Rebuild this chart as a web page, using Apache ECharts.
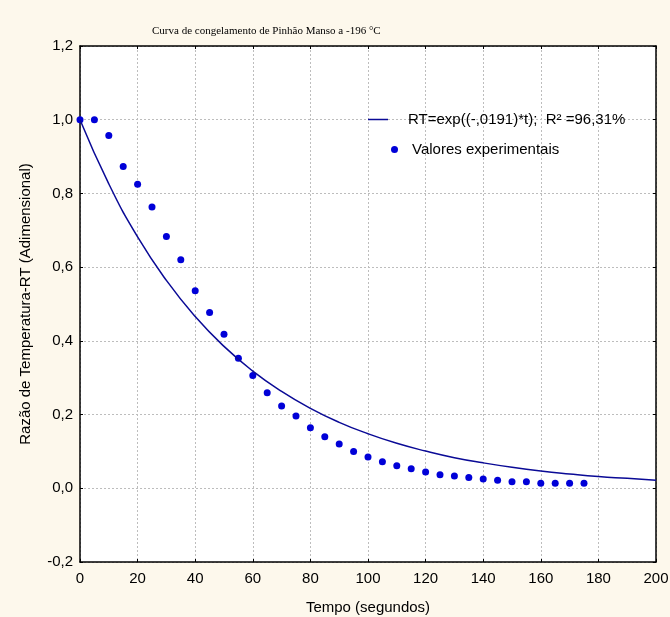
<!DOCTYPE html>
<html>
<head>
<meta charset="utf-8">
<script src="https://cdn.jsdelivr.net/npm/echarts@6/dist/echarts.min.js"></script>
<style>
html,body{margin:0;padding:0;background:#fdf8ec;}
#chart{width:670px;height:617px;}
</style>
</head>
<body>
<div id="chart"></div>
<script>
// Experimental points (time in seconds, temperature ratio)
var expTime = [0, 5, 10, 15, 20, 25, 30, 35, 40, 45, 50, 55, 60, 65, 70, 75, 80, 85, 90, 95, 100, 105, 110, 115, 120, 125, 130, 135, 140, 145, 150, 155, 160, 165, 170, 175];
var expRT = [1.000, 1.000, 0.957, 0.873, 0.825, 0.763, 0.683, 0.620, 0.536, 0.477, 0.418, 0.353, 0.306, 0.259, 0.223, 0.196, 0.164, 0.140, 0.120, 0.100, 0.085, 0.072, 0.061, 0.053, 0.044, 0.037, 0.033, 0.029, 0.025, 0.022, 0.018, 0.018, 0.014, 0.014, 0.014, 0.014];
// Fitted curve
var fitTime = [0, 10, 20, 30, 40, 50, 60, 70, 80, 90, 100, 110, 120, 130, 140, 150, 160, 170, 180, 190, 200];
var fitRT = [1.000, 0.826, 0.682, 0.564, 0.466, 0.385, 0.318, 0.263, 0.217, 0.179, 0.148, 0.122, 0.101, 0.083, 0.069, 0.057, 0.047, 0.039, 0.032, 0.027, 0.022];

var titleText = 'Curva de congelamento de Pinhão Manso a -196 °C';
var fitName = 'RT=exp((-,0191)*t);  R² =96,31%';
var expName = 'Valores experimentais';
var xName = 'Tempo (segundos)';
var yName = 'Razão de Temperatura-RT (Adimensional)';

function zip(a, b) { return a.map(function (v, i) { return [v, b[i]]; }); }
function comma(v) { return v.toFixed(1).replace('.', ','); }

var chart = echarts.init(document.getElementById('chart'));
var font = 'Liberation Sans, Arial, sans-serif';
var gridLine = { show: true, lineStyle: { color: '#bdbdbd', type: [2, 2], width: 1 } };
var lineColor = '#0a0a96';
var dotColor = '#0000d8';

chart.setOption({
  backgroundColor: '#fdf8ec',
  animation: false,
  title: {
    text: titleText,
    left: 147, top: 21,
    textStyle: { fontFamily: 'Liberation Serif, Times New Roman, serif', fontSize: 11, fontWeight: 'normal', color: '#000' }
  },
  grid: { left: 80, right: 14, top: 46, bottom: 55, outerBoundsMode: 'none', containLabel: false, backgroundColor: '#fff', show: true, borderWidth: 0 },
  legend: [
    {
      data: [{ name: fitName, icon: 'rect' }], left: 363, top: 107, itemWidth: 20, itemHeight: 1.5,
      itemStyle: { color: lineColor },
      textStyle: { fontFamily: font, fontSize: 15, color: '#000', padding: [0, 0, 0, 15] }
    },
    {
      data: [{ name: expName, icon: 'circle' }], left: 386, top: 137, itemWidth: 7, itemHeight: 7,
      itemStyle: { color: dotColor, opacity: 1 },
      textStyle: { fontFamily: font, fontSize: 15, color: '#000', padding: [0, 0, 0, 9] }
    }
  ],
  xAxis: [
    {
      type: 'value', min: 0, max: 200, interval: 20,
      name: xName, nameLocation: 'middle', nameGap: 38,
      nameTextStyle: { fontFamily: font, fontSize: 15, color: '#000' },
      axisLine: { onZero: false, lineStyle: { color: '#000', width: 1.5 } },
      axisTick: { inside: true, length: 3, lineStyle: { color: '#000' } },
      axisLabel: { fontFamily: font, fontSize: 15, color: '#000', margin: 9 },
      splitLine: gridLine
    },
    {
      type: 'value', min: 0, max: 200, interval: 20, position: 'top',
      axisLine: { show: true, onZero: false, lineStyle: { color: '#000', width: 1.5 } },
      axisTick: { show: true, inside: true, length: 3, lineStyle: { color: '#000' } },
      axisLabel: { show: false }, splitLine: { show: false }
    }
  ],
  yAxis: [
    {
      type: 'value', min: -0.2, max: 1.2, interval: 0.2,
      name: yName, nameLocation: 'middle', nameGap: 47,
      nameTextStyle: { fontFamily: font, fontSize: 15, color: '#000' },
      axisLine: { show: true, onZero: false, lineStyle: { color: '#000', width: 1.5 } },
      axisTick: { show: true, inside: true, length: 3, lineStyle: { color: '#000' } },
      axisLabel: { fontFamily: font, fontSize: 15, color: '#000', margin: 7, formatter: comma },
      splitLine: gridLine
    },
    {
      type: 'value', min: -0.2, max: 1.2, interval: 0.2, position: 'right',
      axisLine: { show: true, onZero: false, lineStyle: { color: '#000', width: 1.5 } },
      axisTick: { show: true, inside: true, length: 3, lineStyle: { color: '#000' } },
      axisLabel: { show: false }, splitLine: { show: false }
    }
  ],
  series: [
    {
      name: fitName, type: 'line', smooth: true, symbol: 'none',
      data: zip(fitTime, fitRT),
      lineStyle: { color: lineColor, width: 1.5 }, itemStyle: { color: lineColor }
    },
    {
      name: expName, type: 'scatter', symbol: 'circle', symbolSize: 7,
      data: zip(expTime, expRT),
      itemStyle: { color: dotColor, opacity: 1 }
    }
  ]
});
</script>
</body>
</html>
